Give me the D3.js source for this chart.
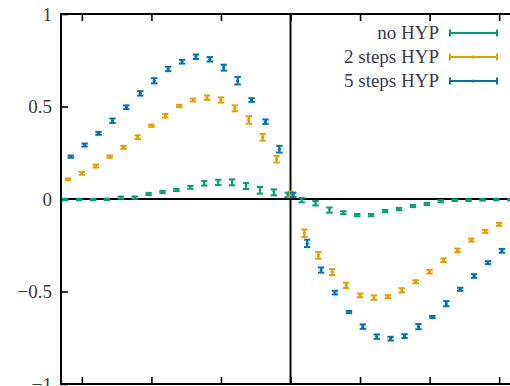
<!DOCTYPE html>
<html>
<head>
<meta charset="utf-8">
<script src="https://cdn.jsdelivr.net/npm/d3@7"></script>
<style>
  html, body { margin: 0; padding: 0; background: #fff; }
  svg { display: block; }
</style>
</head>
<body>
<svg id="chart" width="510" height="386" font-family="Liberation Serif"></svg>
<script>
// Sample positions (lattice offset from the centre)
const positions = d3.range(-16, 17);

const seriesNames = ["no HYP", "2 steps HYP", "5 steps HYP"];
const seriesColors = ["#009e73", "#e69f00", "#0072b2"];

const noHyp = [-0.003, -0.003, -0.003, -0.002, 0.007, 0.007, 0.027, 0.038, 0.049, 0.063, 0.085,
  0.090, 0.090, 0.070, 0.047, 0.036, 0.022, -0.006, -0.023, -0.060, -0.074, -0.087, -0.087,
  -0.065, -0.054, -0.038, -0.027, -0.012, -0.006, -0.006, -0.005, -0.003, -0.003];
const noHypErr = [0.004, 0.004, 0.004, 0.004, 0.006, 0.006, 0.006, 0.006, 0.006, 0.008, 0.012,
  0.014, 0.016, 0.016, 0.018, 0.016, 0.012, 0.012, 0.012, 0.014, 0.008, 0.006, 0.006, 0.006,
  0.006, 0.006, 0.006, 0.006, 0.005, 0.005, 0.004, 0.004, 0.004];

const hyp2 = [0.106, 0.139, 0.178, 0.229, 0.279, 0.334, 0.396, 0.450, 0.503, 0.535, 0.548,
  0.535, 0.490, 0.427, 0.334, 0.215, 0.025, -0.185, -0.305, -0.395, -0.467, -0.521, -0.533,
  -0.528, -0.494, -0.447, -0.393, -0.331, -0.278, -0.222, -0.175, -0.137, -0.104];
const hyp2Err = [0.005, 0.008, 0.008, 0.006, 0.008, 0.010, 0.006, 0.010, 0.006, 0.008, 0.012,
  0.014, 0.016, 0.020, 0.018, 0.018, 0.015, 0.020, 0.018, 0.016, 0.014, 0.010, 0.012, 0.008,
  0.012, 0.008, 0.010, 0.010, 0.010, 0.008, 0.008, 0.008, 0.006];

const hyp5 = [0.229, 0.292, 0.355, 0.423, 0.496, 0.571, 0.639, 0.703, 0.742, 0.769, 0.755,
  0.710, 0.639, 0.535, 0.418, 0.269, 0.022, -0.240, -0.384, -0.506, -0.611, -0.690, -0.744,
  -0.755, -0.741, -0.690, -0.638, -0.566, -0.488, -0.416, -0.344, -0.280, null];
const hyp5Err = [0.006, 0.008, 0.008, 0.012, 0.010, 0.012, 0.014, 0.012, 0.010, 0.012, 0.012,
  0.016, 0.020, 0.010, 0.012, 0.018, 0.012, 0.020, 0.014, 0.010, 0.006, 0.012, 0.012, 0.010,
  0.010, 0.014, 0.006, 0.014, 0.008, 0.010, 0.008, 0.010, null];

const yTickValues = [1, 0.5, 0, -0.5, -1];
const yTickLabels = ["1", "0.5", "0", "\u22120.5", "\u22121"];
const xTickValues = [-15, -10, -5, 0, 5, 10, 15];

const allSeries = [
  { name: seriesNames[0], color: seriesColors[0], values: noHyp, errs: noHypErr, dodge: -0.2, marker: "tri" },
  { name: seriesNames[1], color: seriesColors[1], values: hyp2, errs: hyp2Err, dodge: 0, marker: "square" },
  { name: seriesNames[2], color: seriesColors[2], values: hyp5, errs: hyp5Err, dodge: 0.2, marker: "circle" }
];

const labelFont = "'Liberation Serif'";
const labelSize = "19px";
const labelColor = "#3a3a48";

const svg = d3.select("#chart");
const plotLeft = 61, plotRight = 520, plotTop = 14, plotBottom = 384;

const x = d3.scaleLinear().domain([-16.5, 16.5]).range([plotLeft, plotRight]);
const y = d3.scaleLinear().domain([-1, 1]).range([plotBottom, plotTop]);

svg.append("clipPath").attr("id", "plot-clip")
  .append("rect").attr("x", plotLeft).attr("y", plotTop)
  .attr("width", plotRight - plotLeft).attr("height", plotBottom - plotTop);

// zero axes
svg.append("line").attr("x1", plotLeft).attr("x2", plotRight).attr("y1", y(0)).attr("y2", y(0))
  .attr("stroke", "#000").attr("stroke-width", 2);
svg.append("line").attr("x1", x(0)).attr("x2", x(0)).attr("y1", plotTop).attr("y2", plotBottom)
  .attr("stroke", "#000").attr("stroke-width", 2);

// y axis (ticks pointing inward) and labels
const yAxis = d3.axisLeft(y).tickValues(yTickValues).tickSizeInner(-7).tickSizeOuter(0)
  .tickFormat((d, i) => yTickLabels[i]);
const gy = svg.append("g").attr("transform", `translate(${plotLeft},0)`).call(yAxis)
  .attr("font-family", "Liberation Serif").attr("font-size", 19);
gy.select(".domain").remove();
gy.selectAll(".tick line").attr("stroke", "#000").attr("stroke-width", 1.6);
gy.selectAll(".tick text").attr("x", -9).attr("fill", labelColor)
  .style("font-family", labelFont).style("font-size", labelSize);

// x ticks along top and bottom borders (inward)
const xTop = d3.axisTop(x).tickValues(xTickValues).tickSizeInner(-7).tickSizeOuter(0).tickFormat("");
const gxt = svg.append("g").attr("transform", `translate(0,${plotTop})`).call(xTop);
gxt.select(".domain").remove();
gxt.selectAll(".tick line").attr("stroke", "#000").attr("stroke-width", 1.6);
const xBot = d3.axisBottom(x).tickValues(xTickValues).tickSizeInner(-7).tickSizeOuter(0).tickFormat("");
const gxb = svg.append("g").attr("transform", `translate(0,${plotBottom})`).call(xBot);
gxb.select(".domain").remove();
gxb.selectAll(".tick line").attr("stroke", "#000").attr("stroke-width", 1.6);

// border
svg.append("rect").attr("x", plotLeft).attr("y", plotTop)
  .attr("width", plotRight - plotLeft).attr("height", plotBottom - plotTop)
  .attr("fill", "none").attr("stroke", "#000").attr("stroke-width", 2);

function drawMarker(g, type, cx, cy, color, s) {
  if (type === "tri") {
    g.append("path").attr("d", `M${cx - s},${cy - s * 0.7}L${cx + s},${cy - s * 0.7}L${cx},${cy + s * 0.9}Z`).attr("fill", color);
  } else if (type === "square") {
    g.append("rect").attr("x", cx - s * 0.9).attr("y", cy - s * 0.9).attr("width", s * 1.8).attr("height", s * 1.8).attr("fill", color);
  } else {
    g.append("circle").attr("cx", cx).attr("cy", cy).attr("r", s).attr("fill", color);
  }
}

const capW = 3.2;
const dataLayer = svg.append("g").attr("clip-path", "url(#plot-clip)");
allSeries.forEach(s => {
  const g = dataLayer.append("g");
  positions.forEach((p, i) => {
    const v = s.values[i];
    if (v === null) return;
    const e = s.errs[i];
    const cx = x(p + s.dodge);
    const y1 = y(v + e), y2 = y(v - e);
    g.append("line").attr("x1", cx).attr("x2", cx).attr("y1", y1).attr("y2", y2)
      .attr("stroke", s.color).attr("stroke-width", 2);
    [y1, y2].forEach(yy => g.append("line").attr("x1", cx - capW).attr("x2", cx + capW)
      .attr("y1", yy).attr("y2", yy).attr("stroke", s.color).attr("stroke-width", 2));
    drawMarker(g, s.marker, cx, y(v), s.color, 1.6);
  });
});

// legend
const legendRows = [33, 57, 81];
allSeries.forEach((s, i) => {
  const ly = legendRows[i];
  svg.append("text").attr("x", 439).attr("y", ly).attr("dy", "0.34em")
    .attr("text-anchor", "end").attr("fill", labelColor)
    .style("font-family", labelFont).style("font-size", labelSize).text(s.name);
  const x0 = 450, x1 = 497;
  svg.append("line").attr("x1", x0).attr("x2", x1).attr("y1", ly).attr("y2", ly)
    .attr("stroke", s.color).attr("stroke-width", 2);
  [x0, x1].forEach(xx => svg.append("line").attr("x1", xx).attr("x2", xx)
    .attr("y1", ly - 3.5).attr("y2", ly + 3.5).attr("stroke", s.color).attr("stroke-width", 2));
  drawMarker(svg, s.marker, (x0 + x1) / 2, ly, s.color, 1.6);
});

// measure every label once so the text layout (and its font) is resolved right away
svg.selectAll("text").each(function () { this.getComputedTextLength(); });
</script>
</body>
</html>
